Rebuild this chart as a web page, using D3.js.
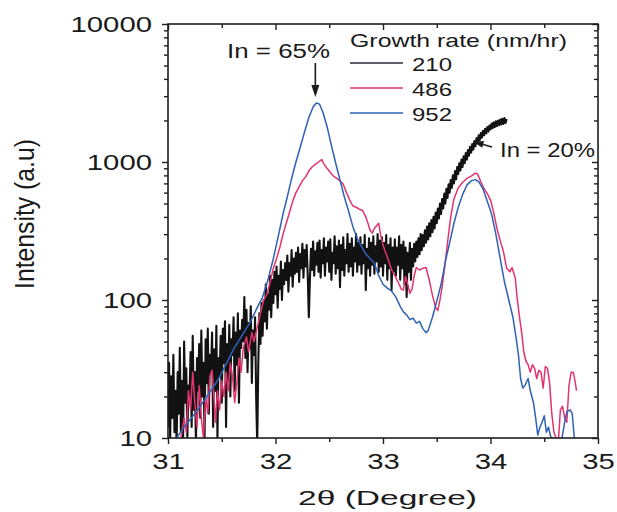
<!DOCTYPE html>
<html>
<head>
<meta charset="utf-8">
<script src="https://cdn.jsdelivr.net/npm/d3@7"></script>
<style>
  body { margin: 0; background: #ffffff; }
  svg { display: block; }
  text { font-family: "Liberation Sans", Arial, sans-serif; fill: #1a1a1a; }
</style>
</head>
<body>
<svg id="chart" width="617" height="512"></svg>
<script>
// XRD 2θ scans of InGaN layers grown at three growth rates (nm/hr)

// 210 nm/hr : sampled every 0.01° from 31.00°
const theta210Start = 31.0;
const theta210Step = 0.01;
const int210 = [
  12, 35, 10, 28, 14, 40, 11, 22, 9, 30,
  15, 45, 11, 26, 9, 50, 18, 32, 10, 24,
  20, 42, 12, 55, 16, 30, 9, 38, 22, 48,
  14, 60, 20, 35, 10, 52, 25, 62, 15, 40,
  30, 58, 12, 44, 22, 65, 10, 38, 28, 55,
  18, 62, 35, 70, 12, 48, 26, 66, 20, 52,
  40, 75, 22, 58, 34, 80, 18, 60, 45, 72,
  50, 105, 38, 85, 30, 68, 45, 90, 25, 60,
  40, 75, 20, 9, 35, 80, 48, 95, 55, 100,
  70, 130, 62, 110, 85, 150, 75, 140, 95, 160,
  110, 175, 88, 150, 120, 190, 100, 165, 130, 185,
  140, 210, 115, 185, 150, 230, 125, 200, 155, 220,
  160, 240, 135, 215, 170, 255, 145, 230, 175, 250,
  150, 75, 140, 235, 165, 265, 150, 225, 180, 260,
  160, 270, 145, 230, 185, 280, 150, 240, 190, 265,
  160, 275, 140, 220, 185, 290, 155, 245, 170, 270,
  124, 250, 165, 285, 150, 230, 185, 300, 160, 255,
  175, 280, 150, 240, 190, 300, 160, 260, 180, 285,
  155, 250, 185, 295, 118, 235, 170, 280, 150, 260,
  180, 290, 155, 245, 190, 300, 160, 270, 175, 285,
  150, 260, 185, 295, 140, 250, 170, 280, 118, 240,
  160, 275, 150, 240, 180, 290, 140, 250, 170, 265,
  130, 240, 105, 220, 160, 260, 140, 235, 175, 255,
  190, 265, 205, 280, 215, 300, 230, 295, 245, 320,
  260, 340, 275, 360, 290, 380, 310, 400, 330, 430,
  360, 460, 390, 500, 420, 540, 460, 590, 500, 640,
  550, 690, 600, 740, 650, 800, 700, 860, 750, 920,
  820, 980, 870, 1040, 920, 1100, 980, 1160, 1040, 1220,
  1110, 1290, 1170, 1350, 1230, 1420, 1300, 1490, 1370, 1560,
  1440, 1620, 1500, 1680, 1560, 1740, 1610, 1790, 1660, 1840,
  1720, 1900, 1760, 1940, 1790, 1970, 1820, 2000, 1850, 2030,
  1870, 2060, 1890, 2080, 1920, 2050
];

// 486 nm/hr
const theta486 = [
  31.12, 31.15, 31.17, 31.19, 31.21, 31.23, 31.25, 31.27, 31.29, 31.31,
  31.33, 31.35, 31.37, 31.39, 31.41, 31.43, 31.44, 31.46, 31.48, 31.50,
  31.52, 31.54, 31.56, 31.58, 31.60, 31.62, 31.64, 31.66, 31.68, 31.70,
  31.73, 31.75, 31.78, 31.80, 31.83, 31.86, 31.89, 31.92, 31.95, 31.98,
  32.01, 32.04, 32.07, 32.10, 32.13, 32.16, 32.19, 32.22, 32.25, 32.28,
  32.31, 32.34, 32.37, 32.40, 32.43, 32.45, 32.48, 32.51, 32.54, 32.57,
  32.60, 32.63, 32.66, 32.69, 32.72, 32.75, 32.78, 32.81, 32.84, 32.86,
  32.88, 32.90, 32.92, 32.94, 32.96, 32.98, 33.00, 33.02, 33.05, 33.08,
  33.11, 33.14, 33.17, 33.19, 33.21, 33.23, 33.25, 33.27, 33.29, 33.31,
  33.34, 33.37, 33.40, 33.43, 33.46, 33.49, 33.51, 33.53, 33.55, 33.58,
  33.60, 33.63, 33.66, 33.70, 33.74, 33.78, 33.82, 33.86, 33.88, 33.91,
  33.94, 33.97, 34.00, 34.03, 34.06, 34.09, 34.12, 34.15, 34.18, 34.20,
  34.23, 34.25, 34.27, 34.29, 34.31, 34.33, 34.35, 34.37, 34.39, 34.41,
  34.43, 34.45, 34.47, 34.49, 34.51, 34.53, 34.55, 34.57, 34.59, 34.61,
  34.63, 34.65, 34.67, 34.69, 34.71, 34.73, 34.75, 34.77, 34.79, 34.80
];
const int486 = [
  10, 14, 11, 22, 16, 30, 18, 12, 24, 14,
  10, 20, 15, 28, 31, 18, 13, 22, 16, 26,
  20, 30, 22, 35, 28, 18, 25, 38, 30, 45,
  54, 42, 58, 50, 63, 80, 100, 110, 135, 170,
  200, 240, 300, 360, 430, 520, 600, 660, 730, 780,
  860, 920, 960, 1000, 1040, 970, 900, 840, 790, 760,
  730, 690, 600, 530, 480, 470, 455, 445, 400, 360,
  320, 305, 330, 345, 360, 290, 250, 225, 195, 165,
  150, 135, 120, 118, 148, 130, 112, 120, 150, 172,
  165, 170, 172, 140, 108, 88, 84, 100, 125, 190,
  260, 400, 540, 650, 710, 760, 790, 830, 820, 720,
  640, 590, 530, 430, 330, 270, 225, 170, 160, 172,
  145, 100, 75, 58, 42, 36, 34, 30, 34, 32,
  27, 31, 30, 23, 33, 32, 25, 15, 11, 10,
  9, 16, 17, 14, 13, 24, 30, 30, 25, 22
];

// 952 nm/hr
const theta952 = [
  31.08, 31.15, 31.22, 31.30, 31.38, 31.46, 31.53, 31.61, 31.68, 31.76,
  31.83, 31.88, 31.93, 31.98, 32.03, 32.07, 32.11, 32.15, 32.19, 32.23,
  32.27, 32.31, 32.35, 32.38, 32.41, 32.44, 32.48, 32.52, 32.56, 32.60,
  32.64, 32.68, 32.72, 32.76, 32.80, 32.84, 32.88, 32.92, 32.96, 33.00,
  33.04, 33.08, 33.12, 33.16, 33.19, 33.22, 33.25, 33.28, 33.31, 33.34,
  33.37, 33.40, 33.42, 33.46, 33.50, 33.54, 33.58, 33.62, 33.66, 33.70,
  33.74, 33.78, 33.82, 33.86, 33.89, 33.93, 33.97, 34.01, 34.05, 34.09,
  34.13, 34.17, 34.21, 34.24, 34.26, 34.28, 34.30, 34.32, 34.35, 34.37,
  34.40, 34.42, 34.44, 34.46, 34.48, 34.50, 34.52, 34.54, 34.56, 34.58,
  34.62, 34.66, 34.69, 34.71, 34.74, 34.76, 34.78, 34.79
];
const int952 = [
  10, 12, 14, 17, 21, 26, 33, 44, 54, 68,
  88, 105, 140, 200, 300, 420, 560, 760, 1000, 1280,
  1650, 2100, 2500, 2680, 2620, 2300, 1800, 1320, 980, 740,
  560, 440, 340, 280, 245, 215, 200, 185, 150, 130,
  122, 116, 105, 90, 82, 78, 72, 74, 68, 70,
  62, 58, 60, 75, 98, 130, 190, 260, 360, 470,
  580, 680, 730, 745, 720, 640, 520, 420, 300, 200,
  135, 100, 74, 52, 40, 27, 23, 24, 27, 22,
  18, 14, 10.5, 12, 13, 14.5, 11, 12, 10.2, 10,
  9, 9.5, 13, 15.5, 16, 15, 10, 9
];

const seriesNames = ["210", "486", "952"];
const seriesColors = ["#121212", "#e3336f", "#2e62b6"];
const legendTitle = "Growth rate (nm/hr)";

const xTicks = [31, 32, 33, 34, 35];
const xMinorTicks = [31.5, 32.5, 33.5, 34.5];
const yTicks = [10, 100, 1000, 10000];
const yMinorTicks = [10, 100, 1000].flatMap(d => [2, 3, 4, 5, 6, 7, 8, 9].map(k => d * k));

const xTitle = "2θ (Degree)";
const yTitle = "Intensity (a.u)";
const peakNotes = [
  { text: "In = 65%", theta: 32.38, value: 2680 },
  { text: "In = 20%", theta: 33.87, value: 1450 }
];

// ---------------------------------------------------------------
const W = 617, H = 512;
const margin = { top: 24, right: 19, bottom: 74, left: 168 };
const x0 = margin.left, x1 = W - margin.right;
const y0 = H - margin.bottom, y1 = margin.top;

const svg = d3.select("#chart");
svg.append("rect").attr("width", W).attr("height", H).attr("fill", "#ffffff");

const xScale = d3.scaleLinear().domain([31, 35]).range([x0, x1]);
const yScale = d3.scaleLog().domain([10, 10000]).range([y0, y1]);

svg.append("defs").append("clipPath").attr("id", "plotClip")
  .append("rect").attr("x", x0).attr("y", y1).attr("width", x1 - x0).attr("height", y0 - y1);

const series = [
  { name: seriesNames[0], color: seriesColors[0], width: 2.1,
    pts: int210.map((v, i) => [theta210Start + i * theta210Step, v]) },
  { name: seriesNames[1], color: seriesColors[1], width: 1.5,
    pts: theta486.map((t, i) => [t, int486[i]]) },
  { name: seriesNames[2], color: seriesColors[2], width: 1.5,
    pts: theta952.map((t, i) => [t, int952[i]]) }
];

const line = d3.line()
  .x(d => xScale(d[0]))
  .y(d => yScale(Math.max(d[1], 3)));

const plot = svg.append("g").attr("clip-path", "url(#plotClip)");
series.forEach(s => {
  plot.append("path")
    .datum(s.pts)
    .attr("d", line)
    .attr("fill", "none")
    .attr("stroke", s.color)
    .attr("stroke-width", s.width)
    .attr("stroke-linejoin", "round");
});

// ---- axes ----
const axisColor = "#1e1e1e";
const DIGIT_W = 16.3;   // wide numerals of the tick labels
function tidy(g) {
  g.attr("font-size", null).attr("font-family", null);
  g.select(".domain").remove();
  g.selectAll(".tick line").attr("stroke", axisColor).attr("stroke-width", 1.4);
}
function labelStyle(g) {
  g.selectAll(".tick text")
    .attr("font-size", 22)
    .attr("fill", "#1a1a1a")
    .attr("textLength", d => String(d).length * DIGIT_W)
    .attr("lengthAdjust", "spacingAndGlyphs");
}

// bottom
svg.append("g").attr("transform", `translate(0,${y0})`)
  .call(d3.axisBottom(xScale).tickValues(xTicks).tickSize(6).tickPadding(9).tickFormat(d3.format("d")))
  .call(tidy).call(labelStyle);
svg.append("g").attr("transform", `translate(0,${y0})`)
  .call(d3.axisBottom(xScale).tickValues(xMinorTicks).tickSize(4).tickFormat(""))
  .call(tidy);
// top (mirror, inward)
svg.append("g").attr("transform", `translate(0,${y1})`)
  .call(d3.axisTop(xScale).tickValues(xTicks).tickSize(-6).tickFormat(""))
  .call(tidy);
svg.append("g").attr("transform", `translate(0,${y1})`)
  .call(d3.axisTop(xScale).tickValues(xMinorTicks).tickSize(-4).tickFormat(""))
  .call(tidy);
// left
svg.append("g").attr("transform", `translate(${x0},0)`)
  .call(d3.axisLeft(yScale).tickValues(yTicks).tickSize(6).tickPadding(10).tickFormat(d3.format("d")))
  .call(tidy).call(labelStyle);
svg.append("g").attr("transform", `translate(${x0},0)`)
  .call(d3.axisLeft(yScale).tickValues(yMinorTicks).tickSize(4).tickFormat(""))
  .call(tidy);
// right (mirror, inward)
svg.append("g").attr("transform", `translate(${x1},0)`)
  .call(d3.axisRight(yScale).tickValues(yTicks).tickSize(-6).tickFormat(""))
  .call(tidy);
svg.append("g").attr("transform", `translate(${x1},0)`)
  .call(d3.axisRight(yScale).tickValues(yMinorTicks).tickSize(-4).tickFormat(""))
  .call(tidy);

// frame
svg.append("rect")
  .attr("x", x0).attr("y", y1).attr("width", x1 - x0).attr("height", y0 - y1)
  .attr("fill", "none").attr("stroke", axisColor).attr("stroke-width", 1.6);

// axis titles
svg.append("text")
  .attr("x", 298).attr("y", 505)
  .attr("font-size", 21)
  .attr("textLength", 179).attr("lengthAdjust", "spacingAndGlyphs")
  .text(xTitle);

svg.append("text")
  .attr("transform", "translate(34,214) scale(1.3,1) rotate(-90)")
  .attr("text-anchor", "middle")
  .attr("font-size", 21)
  .attr("textLength", 150).attr("lengthAdjust", "spacingAndGlyphs")
  .text(yTitle);

// ---- legend ----
const legend = svg.append("g");
legend.append("text")
  .attr("x", 350).attr("y", 47)
  .attr("font-size", 19)
  .attr("textLength", 217).attr("lengthAdjust", "spacingAndGlyphs")
  .text(legendTitle);
const legendColors = ["#2a2a38", seriesColors[1], seriesColors[2]];
series.forEach((s, i) => {
  const ly = 63 + i * 25;
  legend.append("line")
    .attr("x1", 350).attr("x2", 403).attr("y1", ly).attr("y2", ly)
    .attr("stroke", legendColors[i]).attr("stroke-width", 1.6);
  legend.append("text")
    .attr("x", 412).attr("y", ly + 8)
    .attr("font-size", 19)
    .attr("textLength", 40).attr("lengthAdjust", "spacingAndGlyphs")
    .text(s.name);
});

// ---- peak annotations ----
// In = 65 %
{
  const n = peakNotes[0];
  const px = xScale(n.theta) - 1;
  const py = yScale(n.value) - 6;
  svg.append("text").attr("x", 227).attr("y", 58)
    .attr("font-size", 20)
    .attr("textLength", 103).attr("lengthAdjust", "spacingAndGlyphs")
    .text(n.text);
  svg.append("line")
    .attr("x1", px).attr("y1", 63).attr("x2", px).attr("y2", py - 10)
    .attr("stroke", "#1a1a1a").attr("stroke-width", 1.6);
  svg.append("path")
    .attr("d", `M${px - 4},${py - 12} L${px + 4},${py - 12} L${px},${py} Z`)
    .attr("fill", "#1a1a1a");
}
// In = 20 %
{
  const n = peakNotes[1];
  const px = xScale(n.theta) - 3;
  const py = yScale(n.value) + 2;
  svg.append("text").attr("x", 500).attr("y", 157)
    .attr("font-size", 20)
    .attr("textLength", 95).attr("lengthAdjust", "spacingAndGlyphs")
    .text(n.text);
  const ax = 492, ay = 147;
  const ang = Math.atan2(py - ay, px - ax);
  const hl = 10, hw = 3.5;
  const bx = px - hl * Math.cos(ang), by = py - hl * Math.sin(ang);
  svg.append("line")
    .attr("x1", ax).attr("y1", ay).attr("x2", bx).attr("y2", by)
    .attr("stroke", "#1a1a1a").attr("stroke-width", 1.4);
  svg.append("path")
    .attr("d", `M${px},${py} L${bx - hw * Math.sin(ang)},${by + hw * Math.cos(ang)} L${bx + hw * Math.sin(ang)},${by - hw * Math.cos(ang)} Z`)
    .attr("fill", "#1a1a1a");
}
</script>
</body>
</html>
